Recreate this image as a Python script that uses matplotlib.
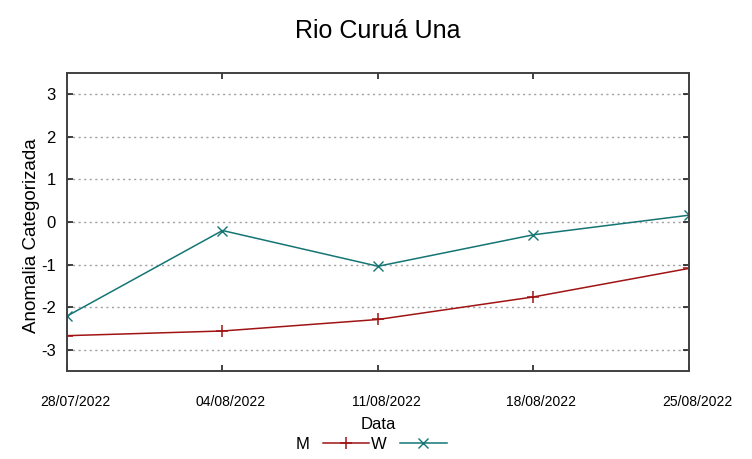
import matplotlib
matplotlib.use('Agg')
import matplotlib.pyplot as plt
import matplotlib.dates as mdates
import matplotlib.transforms as mtransforms
import pandas as pd

plt.rcParams['font.family'] = ['Liberation Sans', 'DejaVu Sans']
plt.rcParams['axes.unicode_minus'] = False

# Data
datas = ['28/07/2022', '04/08/2022', '11/08/2022', '18/08/2022', '25/08/2022']
serie_m = [-2.67, -2.56, -2.29, -1.76, -1.09]
serie_w = [-2.21, -0.20, -1.04, -0.30, 0.16]

x = pd.to_datetime(datas, format='%d/%m/%Y')

fig = plt.figure(figsize=(7.52, 4.59), dpi=100)
ax = fig.add_axes([0.0891, 0.1917, 0.8271, 0.6493])

ax.plot(x, serie_m, color='#a01414', lw=1.1, marker='+', ms=8, mew=1.1, label='M')
ax.plot(x, serie_w, color='#157575', lw=1.1, marker='x', ms=6.5, mew=1.0, label='W')

ax.set_xlim(x[0], x[-1])
ax.set_ylim(-3.5, 3.5)
ax.set_yticks([-3, -2, -1, 0, 1, 2, 3])
ax.set_xticks(x)
ax.xaxis.set_major_formatter(mdates.DateFormatter('%d/%m/%Y'))

ax.grid(axis='y', linestyle=(0, (1.5, 2.5)), color='#a0a0a0', lw=1.0)
ax.set_axisbelow(True)

for s in ax.spines.values():
    s.set_color('#404040')
    s.set_linewidth(1.4)

ax.tick_params(axis='both', direction='in', top=True, right=True, length=4.5, width=1.2, color='#202020')
ax.tick_params(axis='y', labelsize=12, pad=8)
ax.tick_params(axis='x', labelsize=10, pad=17)

# shift x tick labels a bit to the right, like the reference
offset = mtransforms.ScaledTranslation(8 / 100, 0, fig.dpi_scale_trans)
for lbl in ax.get_xticklabels():
    lbl.set_transform(lbl.get_transform() + offset)

ax.set_title('Rio Curuá Una', fontsize=18, pad=25)
ax.set_ylabel('Anomalia Categorizada', fontsize=13.5)
ax.yaxis.set_label_coords(-0.043, 0.453)
ax.set_xlabel('Data', fontsize=12, labelpad=6)

ax.legend(loc='upper center', bbox_to_anchor=(0.489, -0.2), ncol=2, frameon=False,
          markerfirst=False, fontsize=12, handlelength=2.8, columnspacing=0.1,
          handletextpad=0.8, borderaxespad=0)

fig.savefig('out.png', dpi=100)
